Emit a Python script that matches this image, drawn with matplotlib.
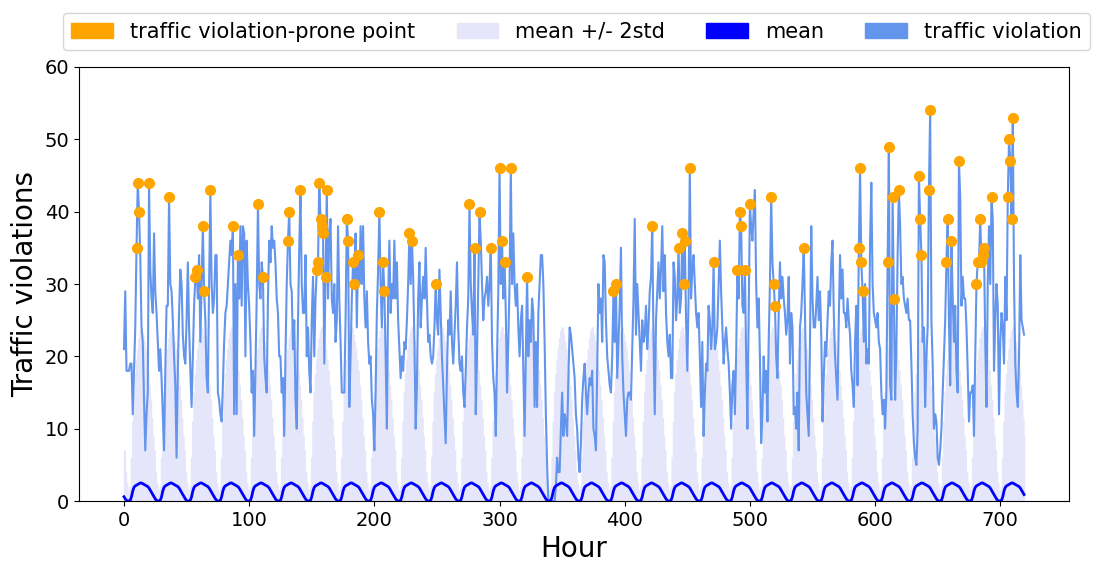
import numpy as np
import matplotlib
matplotlib.use("Agg")
import matplotlib.pyplot as plt
import matplotlib.patches as mpatches

# hourly traffic violations, one row per day (30 days x 24 hours)
violations = [
    21, 29, 18, 18, 18, 19, 19, 12, 18, 24, 35, 44, 40, 34, 24, 22, 14, 7, 12, 15, 44, 32, 28, 26,
    37, 29, 26, 22, 18, 21, 17, 12, 7, 18, 27, 27, 42, 30, 29, 25, 20, 16, 6, 18, 26, 32, 30, 23,
    20, 19, 25, 33, 24, 18, 13, 20, 27, 31, 32, 28, 34, 22, 30, 38, 29, 25, 17, 15, 30, 43, 30, 26,
    28, 34, 34, 15, 14, 12, 11, 16, 22, 26, 27, 30, 33, 36, 34, 38, 12, 30, 12, 34, 28, 38, 27, 38,
    37, 20, 36, 30, 27, 22, 15, 18, 9, 18, 28, 41, 30, 28, 33, 31, 20, 17, 15, 28, 36, 33, 38, 35,
    36, 33, 28, 26, 20, 20, 15, 17, 9, 20, 30, 36, 40, 30, 29, 21, 25, 14, 10, 25, 35, 43, 30, 26,
    26, 34, 20, 24, 18, 15, 25, 31, 20, 28, 32, 33, 44, 39, 38, 37, 19, 31, 43, 28, 37, 39, 28, 26,
    30, 22, 25, 38, 28, 22, 15, 15, 15, 25, 39, 36, 13, 20, 28, 33, 30, 37, 24, 34, 30, 38, 30, 38,
    28, 24, 29, 22, 19, 20, 14, 12, 7, 15, 26, 32, 40, 30, 24, 33, 29, 20, 10, 28, 36, 26, 30, 28,
    36, 28, 33, 25, 21, 17, 20, 18, 22, 21, 25, 30, 37, 30, 36, 31, 22, 10, 16, 28, 33, 24, 28, 31,
    28, 35, 28, 22, 23, 20, 19, 20, 24, 30, 25, 23, 32, 26, 20, 16, 12, 8, 18, 25, 23, 29, 22, 19,
    23, 27, 33, 24, 19, 18, 20, 15, 13, 18, 24, 28, 41, 30, 26, 23, 35, 12, 20, 30, 40, 36, 30, 25,
    28, 29, 31, 27, 30, 35, 22, 17, 15, 9, 20, 29, 46, 30, 36, 28, 33, 26, 15, 22, 30, 46, 30, 37,
    30, 27, 30, 24, 20, 25, 27, 18, 9, 20, 31, 20, 25, 22, 28, 26, 13, 22, 13, 26, 30, 34, 34, 30,
    22, 12, 5, 0, 0, 0, 0, 0, 0, 2, 6, 4, 4, 10, 15, 9, 12, 11, 9, 17, 24, 23, 21, 19,
    17, 12, 10, 6, 4, 8, 14, 17, 19, 15, 12, 15, 17, 16, 18, 10, 9, 7, 18, 30, 26, 28, 22, 34,
    33, 25, 20, 18, 16, 15, 20, 29, 22, 30, 17, 22, 27, 35, 20, 15, 12, 9, 14, 15, 15, 14, 21, 28,
    39, 23, 30, 26, 22, 18, 25, 22, 23, 27, 21, 24, 29, 31, 38, 22, 12, 25, 29, 33, 28, 32, 38, 29,
    34, 26, 22, 20, 23, 17, 17, 33, 31, 25, 28, 35, 26, 28, 37, 30, 36, 25, 18, 28, 46, 28, 32, 34,
    30, 26, 24, 26, 20, 13, 22, 9, 15, 19, 18, 27, 25, 21, 24, 33, 21, 22, 24, 30, 36, 29, 24, 19,
    22, 24, 21, 19, 15, 10, 16, 18, 12, 20, 32, 28, 40, 38, 27, 26, 32, 20, 10, 25, 41, 38, 36, 40,
    43, 30, 24, 28, 20, 8, 12, 20, 15, 18, 11, 22, 30, 42, 33, 30, 27, 20, 17, 26, 33, 28, 31, 28,
    26, 23, 25, 31, 19, 26, 24, 12, 13, 10, 15, 7, 24, 26, 30, 35, 26, 15, 12, 9, 22, 38, 28, 24,
    24, 27, 31, 25, 29, 23, 11, 17, 22, 20, 25, 29, 27, 33, 36, 26, 20, 17, 14, 25, 34, 28, 32, 26,
    26, 24, 28, 25, 23, 18, 16, 13, 22, 27, 16, 35, 46, 33, 29, 22, 30, 19, 21, 19, 36, 44, 30, 26,
    25, 24, 26, 22, 21, 15, 12, 14, 10, 15, 33, 49, 16, 14, 42, 28, 14, 21, 34, 43, 38, 30, 31, 28,
    27, 26, 28, 25, 25, 19, 12, 8, 6, 5, 10, 45, 39, 34, 22, 24, 13, 20, 24, 43, 54, 25, 19, 10,
    12, 11, 6, 5, 7, 10, 15, 20, 25, 33, 39, 25, 16, 36, 28, 22, 27, 18, 15, 47, 42, 27, 31, 28,
    28, 24, 18, 11, 15, 15, 16, 9, 20, 30, 33, 33, 39, 33, 34, 35, 22, 13, 30, 38, 30, 42, 39, 18,
    25, 30, 27, 12, 22, 26, 24, 19, 31, 25, 42, 50, 47, 39, 53, 30, 19, 15, 13, 20, 34, 25, 24, 23,
]

# hours flagged as violation-prone
prone_hours = [
    10, 11, 12, 20, 36, 57, 58, 63, 64, 69, 87, 91, 107, 111, 131, 132, 141,
    154, 155, 156, 157, 158, 159, 161, 162, 178, 179, 183, 184, 187, 204, 207, 208,
    228, 230, 249, 276, 280, 284, 293, 300, 302, 304, 309, 322, 391, 393, 422,
    443, 446, 447, 448, 452, 471, 490, 492, 493, 496, 500, 517, 519, 520, 543,
    587, 588, 589, 590, 610, 611, 614, 615, 619, 635, 636, 637, 643, 644,
    657, 658, 661, 667, 681, 682, 684, 685, 686, 687, 693, 706, 707, 708, 709, 710,
]

# hour-of-day profile of the mean and of mean + 2std
mean_by_hour = [0.6, 0.3, 0.1, 0.0, 0.0, 0.1, 0.6, 1.4, 1.9, 2.1, 2.2, 2.3,
                2.4, 2.5, 2.5, 2.4, 2.3, 2.2, 2.1, 2.0, 1.8, 1.5, 1.2, 0.9]
upper_by_hour = [7, 4, 2.5, 1.5, 1, 2, 6, 11, 15, 17.5, 19.5, 21,
                 22.5, 23.5, 24, 23, 22, 21, 19.5, 18, 16, 14, 11.5, 9]

n_days = len(violations) // 24
hours = np.arange(len(violations))
values = np.array(violations)
mean = np.tile(mean_by_hour, n_days)
upper = np.tile(upper_by_hour, n_days)
lower = 2 * mean - upper

fig = plt.figure(figsize=(10.94, 5.63), dpi=100)
ax = fig.add_axes([0.0722, 0.110, 0.905, 0.771])

ax.fill_between(hours, lower, upper, color="lavender", step="mid", zorder=1)
ax.plot(hours, values, color="cornflowerblue", linewidth=1.5, zorder=2)
ax.plot(hours, mean, color="blue", linewidth=2, zorder=3)
ax.plot(prone_hours, values[prone_hours], "o", color="orange", markersize=7, zorder=4)

ax.set_ylim(0, 60)
ax.set_xlabel("Hour", fontsize=20)
ax.set_ylabel("Traffic violations", fontsize=20)
ax.tick_params(labelsize=14)

handles = [
    mpatches.Patch(color="orange", label="traffic violation-prone point"),
    mpatches.Patch(color="lavender", label="mean +/- 2std"),
    mpatches.Patch(color="blue", label="mean"),
    mpatches.Patch(color="cornflowerblue", label="traffic violation"),
]
fig.legend(handles=handles, loc="upper center", ncol=4, fontsize=15,
           bbox_to_anchor=(0.527, 0.995))

fig.savefig("out.png", dpi=100)
